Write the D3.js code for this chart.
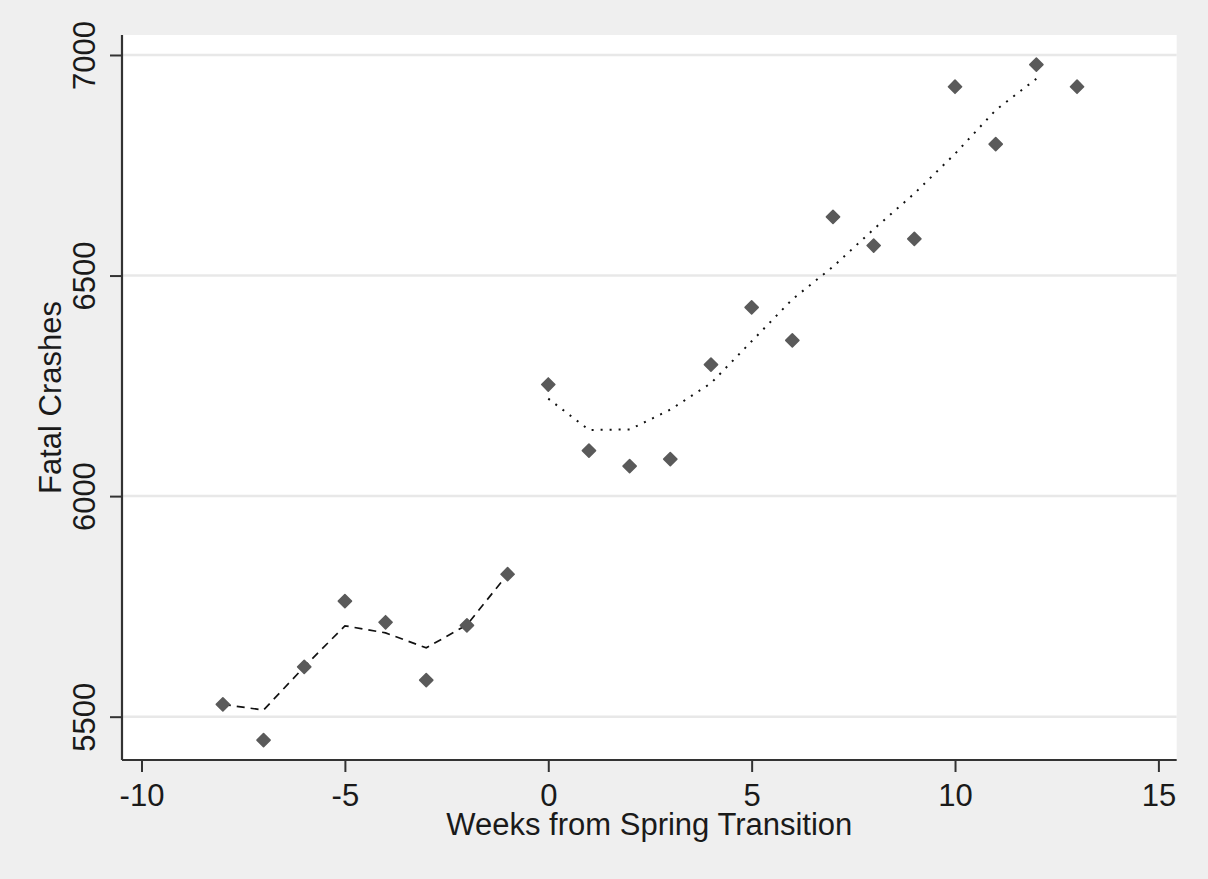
<!DOCTYPE html>
<html>
<head>
<meta charset="utf-8">
<script src="https://cdn.jsdelivr.net/npm/d3@7"></script>
<style>
  html, body { margin: 0; padding: 0; background: #efefef; }
  svg { display: block; }
  text { font-family: "Liberation Sans", Arial, sans-serif; fill: #1a1a1a; }
</style>
</head>
<body>
<svg id="chart" width="1208" height="879"></svg>
<script>
// Weekly fatal crashes around the spring clock change
const weeks = [-8, -7, -6, -5, -4, -3, -2, -1, 0, 1, 2, 3, 4, 5, 6, 7, 8, 9, 10, 11, 12, 13];
const crashes = [5528, 5447, 5613, 5762, 5714, 5583, 5707, 5823,
                 6253, 6103, 6068, 6084, 6298, 6428, 6353, 6633, 6568, 6583, 6928, 6798, 6978, 6928];

// Smoothed fit before the transition (dashed)
const preWeeks = [-8, -7, -6, -5, -4, -3, -2, -1];
const preFit = [5528, 5515, 5613, 5706, 5690, 5656, 5708, 5823];

// Smoothed fit after the transition (dotted)
const postWeeks = [0, 1, 2, 3, 4, 5, 6, 7, 8, 9, 10, 11, 12];
const postFit = [6221, 6150, 6151, 6196, 6256, 6351, 6446, 6520, 6605, 6686, 6776, 6875, 6946];

const xTicks = [-10, -5, 0, 5, 10, 15];
const yTicks = [5500, 6000, 6500, 7000];

const xTitle = "Weeks from Spring Transition";
const yTitle = "Fatal Crashes";

const svg = d3.select("#chart");
const W = 1208, H = 879;
const plot = { left: 122, right: 1176.7, top: 35, bottom: 760 };

svg.append("rect").attr("width", W).attr("height", H).attr("fill", "#efefef");
svg.append("rect")
  .attr("x", plot.left).attr("y", plot.top)
  .attr("width", plot.right - plot.left).attr("height", plot.bottom - plot.top)
  .attr("fill", "#ffffff");

const x = d3.scaleLinear().domain([-10.48, 15.45]).range([plot.left, plot.right]);
const y = d3.scaleLinear().domain([5401.8, 7045.3]).range([plot.bottom, plot.top]);

// horizontal grid
svg.append("g").selectAll("line").data(yTicks).join("line")
  .attr("x1", plot.left).attr("x2", plot.right)
  .attr("y1", d => y(d)).attr("y2", d => y(d))
  .attr("stroke", "#e8e8e8").attr("stroke-width", 2.5);

// fitted lines
const line = d3.line().x(d => x(d[0])).y(d => y(d[1]));
svg.append("path")
  .datum(preWeeks.map((w, i) => [w, preFit[i]]))
  .attr("d", line).attr("fill", "none")
  .attr("stroke", "#111").attr("stroke-width", 1.7)
  .attr("stroke-dasharray", "8,6");
svg.append("path")
  .datum(postWeeks.map((w, i) => [w, postFit[i]]))
  .attr("d", line).attr("fill", "none")
  .attr("stroke", "#111").attr("stroke-width", 2)
  .attr("stroke-dasharray", "2,7");

// observed weekly counts
const diamond = d3.symbol().type(d3.symbolSquare).size(86);
svg.append("g").selectAll("path").data(weeks).join("path")
  .attr("d", diamond)
  .attr("transform", (d, i) => `translate(${x(d)},${y(crashes[i])}) rotate(45)`)
  .attr("fill", "#5a5a5a")
  .attr("stroke", "#5a5a5a").attr("stroke-width", 1.6).attr("stroke-linejoin", "round");

// x axis
const gx = svg.append("g").attr("transform", `translate(0,${plot.bottom})`)
  .call(d3.axisBottom(x).tickValues(xTicks).tickSize(12).tickSizeOuter(0).tickFormat(d3.format("d")));
gx.select(".domain").attr("stroke", "#333").attr("stroke-width", 2.2)
  .attr("d", `M${plot.left},0H${plot.right}`);
gx.selectAll(".tick line").attr("stroke", "#333").attr("stroke-width", 2);
gx.selectAll(".tick text")
  .attr("y", 46).attr("dy", null)
  .style("font-size", "31px").style("font-family", "'Liberation Sans', Arial, sans-serif")
  .attr("fill", "#1a1a1a")
  .text(d => d < 0 ? "-" + Math.abs(d) : d);

// y axis
const gy = svg.append("g").attr("transform", `translate(${plot.left},0)`)
  .call(d3.axisLeft(y).tickValues(yTicks).tickSize(12).tickSizeOuter(0).tickFormat(d3.format("d")));
gy.select(".domain").attr("stroke", "#333").attr("stroke-width", 2.2)
  .attr("d", `M0,${plot.top}V${plot.bottom}`);
gy.selectAll(".tick line").attr("stroke", "#333").attr("stroke-width", 2);
gy.selectAll(".tick text")
  .attr("x", null).attr("dy", null)
  .attr("text-anchor", "middle")
  .attr("transform", "translate(-27,0) rotate(-90)")
  .style("font-size", "31px").style("font-family", "'Liberation Sans', Arial, sans-serif")
  .attr("fill", "#1a1a1a");

// axis titles
svg.append("text")
  .attr("x", (plot.left + plot.right) / 2).attr("y", 835)
  .attr("text-anchor", "middle").style("font-size", "31px")
  .text(xTitle);
svg.append("text")
  .attr("transform", `translate(61,${(plot.top + plot.bottom) / 2}) rotate(-90)`)
  .attr("text-anchor", "middle").style("font-size", "31px")
  .text(yTitle);
</script>
</body>
</html>
